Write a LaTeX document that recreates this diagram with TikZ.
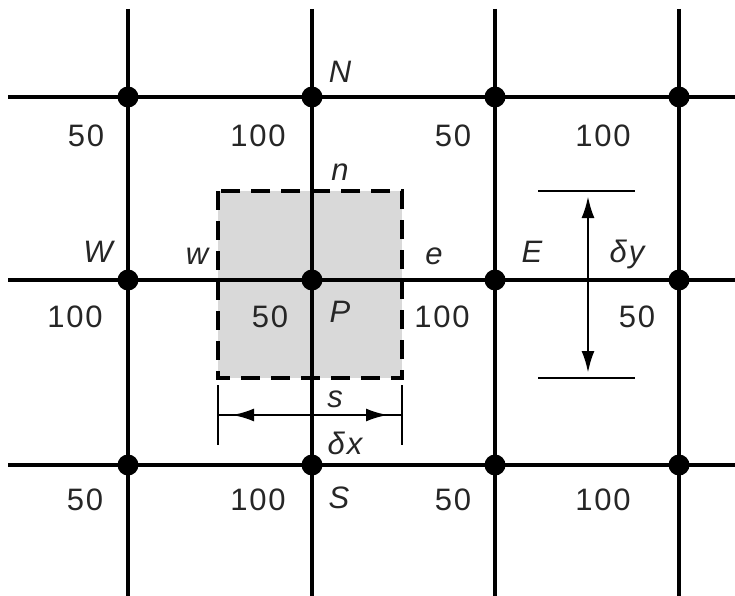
\documentclass[tikz,border=0pt]{standalone}
\usepackage{fontspec}
\setmainfont{Liberation Sans}[LetterSpace=6]
\usetikzlibrary{arrows.meta}
\begin{document}
\begin{tikzpicture}[x=1pt,y=-1pt,
  grid/.style={line width=3.3pt},
  dot/.style={circle,fill=black,inner sep=0pt,minimum size=21pt},
  lab/.style={font=\fontsize{31}{31}\selectfont,text=black!85,inner sep=0pt},
  ilab/.style={lab,font=\fontsize{31}{31}\selectfont\itshape},
  dim/.style={line width=2.8pt},
  tip/.style={-{Latex[length=22pt,width=13pt]},line width=2.8pt}]
\useasboundingbox (0,0) rectangle (735,596);
% shaded control volume
\fill[black!15] (218,191) rectangle (402,378);
\draw[line width=3.3pt,dash pattern=on 19pt off 11pt] (218,191) rectangle (402,378);
% grid lines
\foreach \x in {128,312,495,679} \draw[grid] (\x,9) -- (\x,596);
\foreach \y in {97,280,465} \draw[grid] (8,\y) -- (735,\y);
% nodes
\node[dot] (NW) at (128,97) {};
\node[dot] (N) at (312,97) {};
\node[dot] (NE) at (495,97) {};
\node[dot] (NEE) at (679,97) {};
\node[dot] (W) at (128,280) {};
\node[dot] (P) at (312,280) {};
\node[dot] (E) at (495,280) {};
\node[dot] (EE) at (679,280) {};
\node[dot] (SW) at (128,465) {};
\node[dot] (S) at (312,465) {};
\node[dot] (SE) at (495,465) {};
\node[dot] (SEE) at (679,465) {};
% delta x dimension
\coordinate (xl1) at (218,385); \coordinate (xl2) at (218,445);
\coordinate (xr1) at (402,385); \coordinate (xr2) at (402,445);
\draw[dim] (xl1) -- (xl2);
\draw[dim] (xr1) -- (xr2);
\coordinate (xa) at (218,415); \coordinate (xb) at (402,415);
\coordinate (xm) at (310,415);
\coordinate (xtl) at (232,415); \coordinate (xtr) at (388,415);
\draw[dim] (xa) -- (xb);
\draw[tip] (xm) -- (xtl);
\draw[tip] (xm) -- (xtr);
% delta y dimension
\coordinate (yt1) at (538,191); \coordinate (yt2) at (635,191);
\coordinate (yb1) at (538,378); \coordinate (yb2) at (635,378);
\draw[dim] (yt1) -- (yt2);
\draw[dim] (yb1) -- (yb2);
\coordinate (ym) at (588,285);
\coordinate (ytt) at (588,196); \coordinate (ytb) at (588,373);
\draw[tip] (ym) -- (ytt);
\draw[tip] (ym) -- (ytb);
% labels
\node[lab] (v1) at (86,136) {50};
\node[lab] (v2) at (258,136) {100};
\node[lab] (v3) at (453,136) {50};
\node[lab] (v4) at (603,136) {100};
\node[lab] (v5) at (75,317) {100};
\node[lab] (v6) at (270,317) {50};
\node[lab] (v7) at (442,317) {100};
\node[lab] (v8) at (637,317) {50};
\node[lab] (v9) at (85,500) {50};
\node[lab] (v10) at (258,500) {100};
\node[lab] (v11) at (453,500) {50};
\node[lab] (v12) at (603,500) {100};
\node[ilab] (lN) at (340,72) {N};
\node[ilab] (ln) at (340,172) {n};
\node[ilab] (lW) at (98,252) {W};
\node[ilab] (lw) at (197,256) {w};
\node[ilab] (le) at (434,256) {e};
\node[ilab] (lE) at (532,252) {E};
\node[ilab] (ldy) at (627,254) {δy};
\node[ilab] (lP) at (340,312) {P};
\node[ilab] (ls) at (335,399) {s};
\node[ilab] (ldx) at (345,443) {δx};
\node[ilab] (lS) at (339,498) {S};
\end{tikzpicture}
\end{document}
